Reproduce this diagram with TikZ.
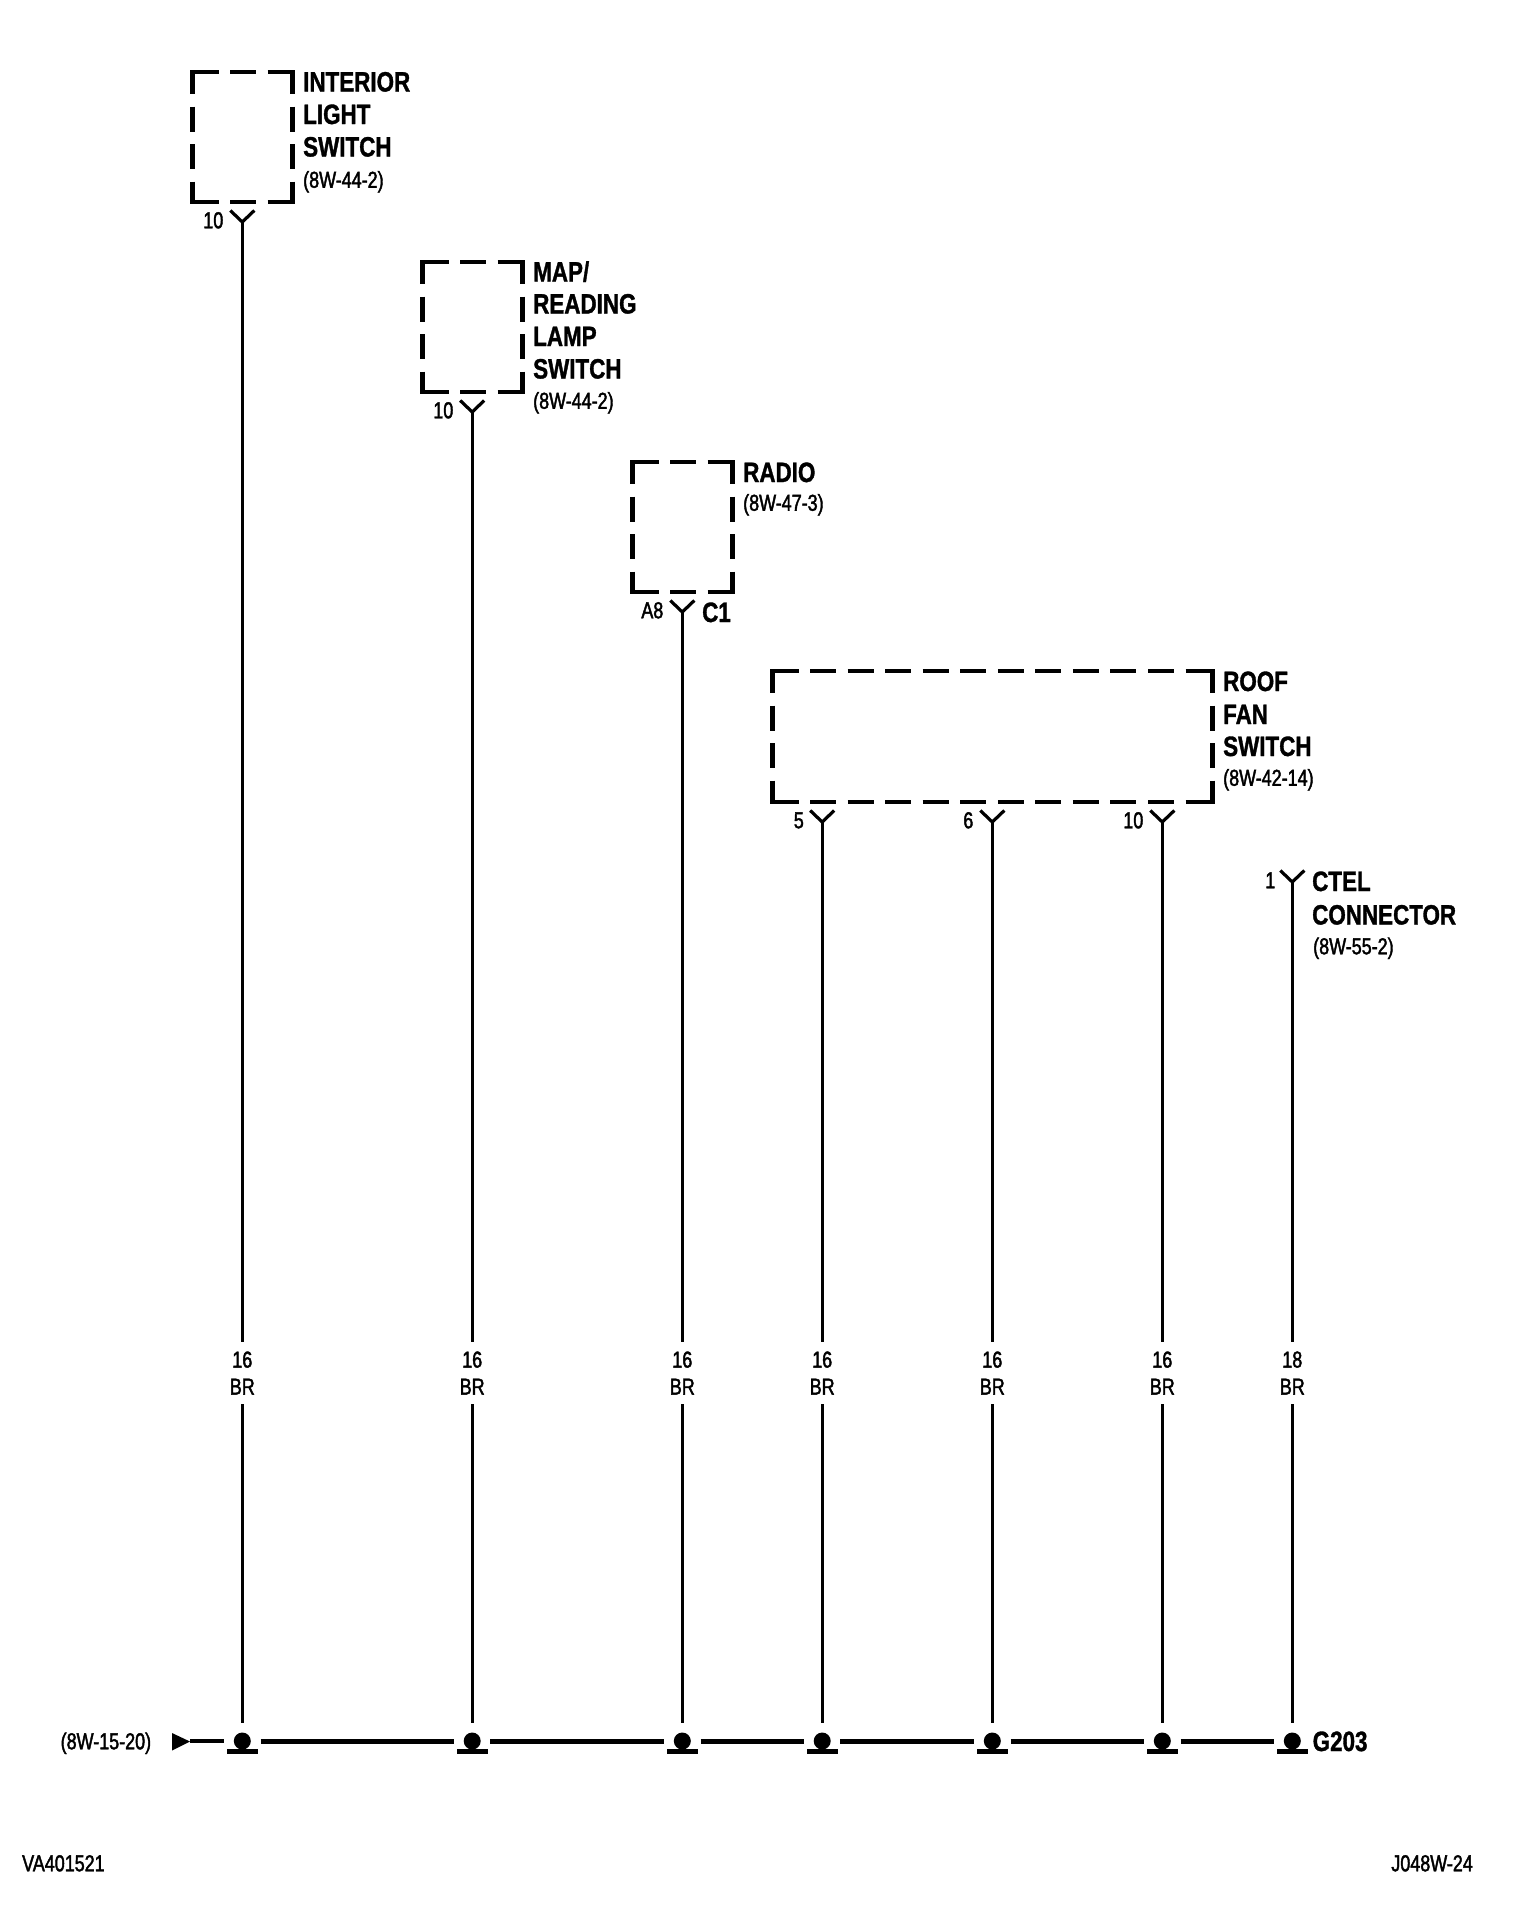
\documentclass[tikz,border=0pt]{standalone}
\usepackage{fontspec}
\setmainfont{Liberation Sans}
\newfontfamily\boldlab[FakeStretch=0.80,FakeBold=1.2]{Liberation Sans Bold}
\newfontfamily\smalllab[FakeStretch=0.78,FakeBold=1.8]{Liberation Sans}
\begin{document}
\begin{tikzpicture}[x=1pt,y=-1pt,
  big/.style={font=\boldlab\fontsize{28}{28}\selectfont,inner sep=0pt,text height=20pt,text depth=0pt,anchor=west,xshift=-1pt,yshift=1pt},
  small/.style={font=\smalllab\fontsize{23}{23}\selectfont,inner sep=0pt,text height=16.5pt,text depth=0pt,anchor=west,xshift=-1pt,yshift=1pt},
  smallr/.style={small,anchor=east,xshift=1.5pt},
  wire/.style={line width=3.2pt},
  fork/.style={line width=3.2pt,line join=miter},
  bus/.style={line width=5pt},
  stub/.style={line width=3.2pt},
  wlabel/.style={font=\smalllab\fontsize{23}{27}\selectfont,align=center,inner sep=0pt,minimum height=62pt,minimum width=30pt},
  gnd/.style={inner sep=0pt,minimum width=36pt,minimum height=36pt},
]
\path[use as bounding box,fill=white] (0,0) rectangle (1536,1914);

% dashed module boxes
\newcommand{\dbox}[5]{% name,x0,y0,x1,y1
  \node[inner sep=0pt,minimum width={(#4-#2)*1pt},minimum height={(#5-#3)*1pt}] (#1) at ({(#2+#4)/2},{(#3+#5)/2}) {};
  \draw[line width=4.5pt,dash pattern=on 26pt off 11.55pt] (#2,#3) -- (#4,#3);
  \draw[line width=4.5pt,dash pattern=on 26pt off 11.55pt] (#2,#5) -- (#4,#5);
  \draw[line width=4.5pt,dash pattern=on 25pt off 12.5pt,dash phase=3pt] (#2,#3) -- (#2,#5);
  \draw[line width=4.5pt,dash pattern=on 25pt off 12.5pt,dash phase=3pt] (#4,#3) -- (#4,#5);
  \foreach \cx/\cy in {#2/#3,#4/#3,#2/#5,#4/#5} \fill (\cx-2.25,\cy-2.25) rectangle ++(4.5,4.5);
}
\dbox{b1}{192.5}{72}{292.5}{202}
\dbox{b2}{422.5}{262}{522.5}{392}
\dbox{b3}{632.5}{462}{732.5}{592}
\dbox{b4}{772.5}{671}{1212.5}{802}

% wires: index/x/top of fork/gauge
\foreach \n/\wx/\fy/\ga in {1/242.3/222/16,2/472.2/412/16,3/682.3/612/16,4/822.2/822/16,5/992.3/822/16,6/1162.3/822/16,7/1292.3/882/18}{
  \coordinate (f\n) at (\wx,\fy);
  \coordinate (fl\n) at (\wx-12,\fy-11.5);
  \coordinate (fr\n) at (\wx+12,\fy-11.5);
  \node[wlabel] (w\n) at (\wx,1373) {\ga\\BR};
  \node[gnd] (g\n) at (\wx,1741) {};
  \draw[fork] (fl\n) -- (f\n) -- (fr\n);
  \draw[wire] (f\n) -- (w\n.north);
  \draw[wire] (w\n.south) -- (g\n.north);
  \fill (g\n.center) circle (8.5pt);
  \fill (\wx-15.5,1749) rectangle (\wx+15.5,1753.5);
}

% bus
\foreach \a/\b in {1/2,2/3,3/4,4/5,5/6,6/7}
  \draw[bus] (g\a.east) -- (g\b.west);
\fill (172,1733) -- (190,1741.5) -- (172,1750.5) -- cycle;
\coordinate (tipend) at (190,1741);
\draw[stub] (tipend) -- (g1.west);

% labels
\node[big] (t1a) at (304,82.5) {INTERIOR};
\node[big] (t1b) at (304,115) {LIGHT};
\node[big] (t1c) at (304,147.5) {SWITCH};
\node[small] (t1d) at (304,180.5) {(8W-44-2)};
\node[smallr] (p1) at (223,221) {10};

\node[big] (t2a) at (534,272.5) {MAP/};
\node[big] (t2b) at (534,304.5) {READING};
\node[big] (t2c) at (534,337) {LAMP};
\node[big] (t2d) at (534,369.5) {SWITCH};
\node[small] (t2e) at (534,401.5) {(8W-44-2)};
\node[smallr] (p2) at (453,411) {10};

\node[big] (t3a) at (744,473) {RADIO};
\node[small] (t3b) at (744,503.5) {(8W-47-3)};
\node[smallr] (p3) at (663,611) {A8};
\node[big] (c1) at (703,613) {C1};

\node[big] (t4a) at (1224,682) {ROOF};
\node[big] (t4b) at (1224,715) {FAN};
\node[big] (t4c) at (1224,747) {SWITCH};
\node[small] (t4d) at (1224,778.5) {(8W-42-14)};
\node[smallr] (p4) at (803.5,821) {5};
\node[smallr] (p5) at (973,821) {6};
\node[smallr] (p6) at (1143,821) {10};

\node[smallr] (p7) at (1275,881) {1};
\node[big] (t5a) at (1313,882) {CTEL};
\node[big] (t5b) at (1313,915.5) {CONNECTOR};
\node[small] (t5c) at (1314,947) {(8W-55-2)};

\node[big] (g203) at (1313.5,1742) {G203};
\node[small] (src) at (61.5,1742) {(8W-15-20)};
\node[small,xshift=1pt] (va) at (22,1864) {VA401521};
\node[small,anchor=east,xshift=1pt] (jn) at (1473,1864) {J048W-24};
\end{tikzpicture}
\end{document}
